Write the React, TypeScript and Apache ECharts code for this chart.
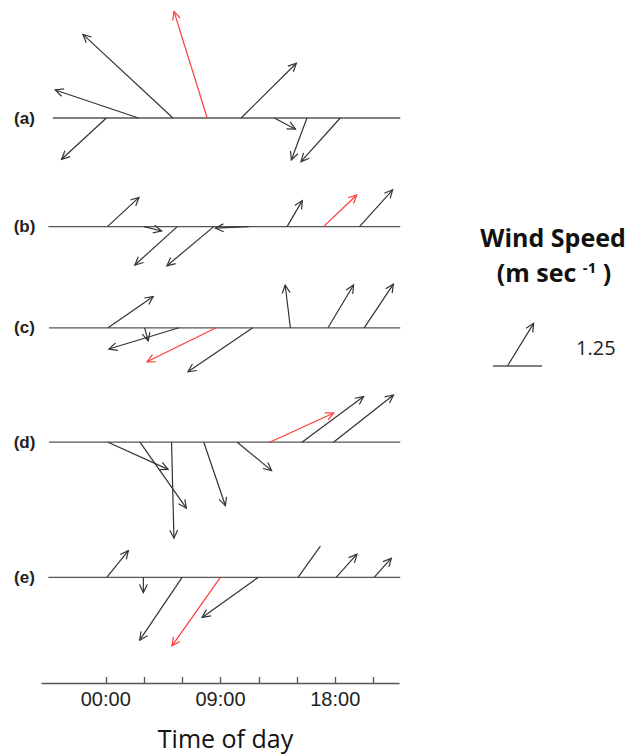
import React, { useEffect, useRef } from "react";
import * as echarts from "echarts";

// ---- data (wind vectors, m/s) ----
const ROW_LABELS = ["(a)", "(b)", "(c)", "(d)", "(e)"];

const TIME_A = [0.05, 2.56, 5.27, 7.96, 10.62, 13.22, 15.78, 18.39];
const U_A = [-1.12, -2.08, -2.25, -0.83, 1.38, 0.53, -0.39, -0.98];
const V_A = [-1.03, 0.7, 2.09, 2.66, 1.37, -0.28, -1.05, -1.09];

const TIME_B = [0.13, 3.0, 5.61, 8.47, 11.21, 14.22, 17.08, 19.9];
const U_B = [0.79, 0.44, -1.06, -1.17, -0.83, 0.38, 0.83, 0.83];
const V_B = [0.73, -0.11, -0.96, -0.98, -0.04, 0.65, 0.79, 0.92];

const TIME_C = [0.18, 3.05, 5.74, 8.66, 11.53, 14.48, 17.43, 20.27];
const U_C = [1.13, 0.09, -1.75, -1.73, -1.62, -0.13, 0.64, 0.73];
const V_C = [0.78, -0.33, -0.53, -0.85, -1.1, 1.07, 1.07, 1.09];

const TIME_D = [0.18, 2.68, 5.16, 7.69, 10.31, 12.86, 15.39, 17.86];
const U_D = [1.5, 1.16, 0.06, 0.54, 0.86, 1.6, 1.54, 1.5];
const V_D = [-0.68, -1.65, -2.4, -1.59, -0.71, 0.73, 1.14, 1.18];

const TIME_E = [0.08, 2.95, 5.99, 8.99, 11.95, 15.08, 18.07, 21.05];
const U_E = [0.54, 0.0, -1.06, -1.21, -1.4, 0.56, 0.52, 0.43];
const V_E = [0.67, -0.38, -1.57, -1.71, -1.0, 0.78, 0.58, 0.48];

// index of highlighted (red) vector in each row
const RED_INDEX = [3, 6, 3, 5, 3];
// vectors drawn without an arrow head: [row, index]
const NO_HEAD = [[4, 5]];

const TICK_HOURS = [0, 3, 6, 9, 12, 15, 18, 21];
const LABEL_HOURS = [0, 9, 18];
const LEGEND_SPEED = 1.25;
const LEGEND_DIR_DEG = 58.5;

// ---- layout ----
const ROW_LEVELS = [14.125, 11.41, 8.88, 6.02, 2.64];
const BASE_START = [-4.15, -4.5, -4.45, -4.45, -4.5];
const BASE_END = 23.1;
const X_MIN = -5;
const X_MAX = 23;
const Y_MAX = 17;

const DARK = "#333333";
const RED = "#ff3a3a";
const BASE = "#555555";

const ROWS = [
  [TIME_A, U_A, V_A],
  [TIME_B, U_B, V_B],
  [TIME_C, U_C, V_C],
  [TIME_D, U_D, V_D],
  [TIME_E, U_E, V_E],
];

function arrowChildren(x0: number, y0: number, x1: number, y1: number, color: string, head: boolean) {
  const ang = Math.atan2(y1 - y0, x1 - x0);
  const L = 9;
  const A = 0.45;
  const h1 = [x1 - L * Math.cos(ang - A), y1 - L * Math.sin(ang - A)];
  const h2 = [x1 - L * Math.cos(ang + A), y1 - L * Math.sin(ang + A)];
  const els: any[] = [
    {
      type: "line",
      shape: { x1: x0, y1: y0, x2: x1, y2: y1 },
      style: { stroke: color, lineWidth: 1.2 },
    },
  ];
  if (head) {
    els.push({
      type: "polyline",
      shape: { points: [h1, [x1, y1], h2] },
      style: { stroke: color, fill: "none", lineWidth: 1.2 },
    });
  }
  return els;
}

export default function App() {
  const ref = useRef<HTMLDivElement>(null);

  useEffect(() => {
    if (!ref.current) return;
    const chart = echarts.init(ref.current, null, { renderer: "svg" });

    const vectorData: number[][] = [];
    ROWS.forEach(([t, u, v], r) => {
      t.forEach((tv, i) => {
        const noHead = NO_HEAD.some(([rr, ii]) => rr === r && ii === i);
        vectorData.push([tv, ROW_LEVELS[r], u[i], v[i], RED_INDEX[r] === i ? 1 : 0, noHead ? 0 : 1]);
      });
    });
    const baseData = ROW_LEVELS.map((lvl, r) => [BASE_START[r], BASE_END, lvl, r]);

    const pad = (n: number) => (n < 10 ? "0" + n : "" + n);

    chart.setOption({
      animation: false,
      grid: { left: 42, right: 233, top: 3, bottom: 72 },
      xAxis: {
        type: "value",
        min: X_MIN,
        max: X_MAX,
        splitLine: { show: false },
        axisLine: { show: true, lineStyle: { color: "#555", width: 1.3 } },
        axisTick: {
          show: true,
          inside: true,
          length: 6,
          customValues: TICK_HOURS,
          lineStyle: { color: "#555", width: 1.3 },
        },
        axisLabel: {
          customValues: LABEL_HOURS,
          formatter: (h: number) => pad(h) + ":00",
          fontSize: 20,
          fontFamily: "Liberation Sans",
          color: "#222",
          margin: 6,
        },
      },
      yAxis: { type: "value", min: 0, max: Y_MAX, show: false },
      series: [
        {
          type: "custom",
          name: "baselines",
          clip: false,
          silent: true,
          data: baseData,
          encode: { x: [0, 1], y: 2 },
          renderItem: (params: any, api: any) => {
            const lvl = api.value(2);
            const p0 = api.coord([api.value(0), lvl]);
            const p1 = api.coord([api.value(1), lvl]);
            const pl = api.coord([X_MIN, lvl]);
            return {
              type: "group",
              children: [
                {
                  type: "line",
                  shape: { x1: p0[0], y1: p0[1], x2: p1[0], y2: p1[1] },
                  style: { stroke: BASE, lineWidth: 1.3 },
                },
                {
                  type: "text",
                  x: pl[0] - 17.5,
                  y: pl[1],
                  style: {
                    text: ROW_LABELS[api.value(3)],
                    fontSize: 17,
                    fontWeight: "bold",
                    fontFamily: "Liberation Sans",
                    fill: "#222",
                    align: "center",
                    verticalAlign: "middle",
                  },
                },
              ],
            };
          },
        },
        {
          type: "custom",
          name: "wind",
          clip: false,
          silent: true,
          data: vectorData,
          encode: { x: 0, y: 1 },
          renderItem: (params: any, api: any) => {
            const p0 = api.coord([api.value(0), api.value(1)]);
            const s = api.size([0, 1])[1];
            const x1 = p0[0] + api.value(2) * s;
            const y1 = p0[1] - api.value(3) * s;
            return {
              type: "group",
              children: arrowChildren(p0[0], p0[1], x1, y1, api.value(4) ? RED : DARK, !!api.value(5)),
            };
          },
        },
      ],
    });

    // legend key drawn with the same scale (pixels per m/s)
    const s = (chart.convertToPixel({ yAxisIndex: 0 }, 0) as number) - (chart.convertToPixel({ yAxisIndex: 0 }, 1) as number);
    const ox = 507.5;
    const oy = 366;
    const rad = (LEGEND_DIR_DEG * Math.PI) / 180;
    const tx = ox + LEGEND_SPEED * Math.cos(rad) * s;
    const ty = oy - LEGEND_SPEED * Math.sin(rad) * s;

    chart.setOption({
      graphic: [
        {
          type: "text",
          x: 225.5,
          y: 738,
          style: {
            text: "Time of day",
            fontSize: 25,
            fontFamily: "Open Sans",
            fill: "#111",
            align: "center",
            verticalAlign: "middle",
          },
        },
        {
          type: "text",
          x: 553,
          y: 237,
          style: {
            text: "Wind Speed",
            fontSize: 25,
            fontWeight: "bold",
            fontFamily: "Open Sans",
            fill: "#111",
            align: "center",
            verticalAlign: "middle",
          },
        },
        {
          type: "text",
          x: 554,
          y: 272,
          style: {
            text: "{b|(m sec }{s|-1}{b| )}",
            align: "center",
            verticalAlign: "middle",
            rich: {
              b: { fontSize: 25, fontWeight: "bold", fontFamily: "Open Sans", fill: "#111", verticalAlign: "bottom" },
              s: { fontSize: 15, fontWeight: "bold", fontFamily: "Open Sans", fill: "#111", verticalAlign: "top", padding: [0, 0, 10, 0] },
            },
          },
        },
        {
          type: "line",
          shape: { x1: 493, y1: oy, x2: 542, y2: oy },
          style: { stroke: BASE, lineWidth: 1.3 },
        },
        {
          type: "group",
          children: arrowChildren(ox, oy, tx, ty, DARK, true),
        },
        {
          type: "text",
          x: 576,
          y: 347,
          style: {
            text: String(LEGEND_SPEED),
            fontSize: 20,
            fontFamily: "Open Sans",
            fill: "#222",
            align: "left",
            verticalAlign: "middle",
          },
        },
      ],
    });

    return () => chart.dispose();
  }, []);

  return (
    <div
      ref={ref}
      style={{ position: "absolute", left: 0, top: 0, width: 632, height: 755 }}
    />
  );
}
